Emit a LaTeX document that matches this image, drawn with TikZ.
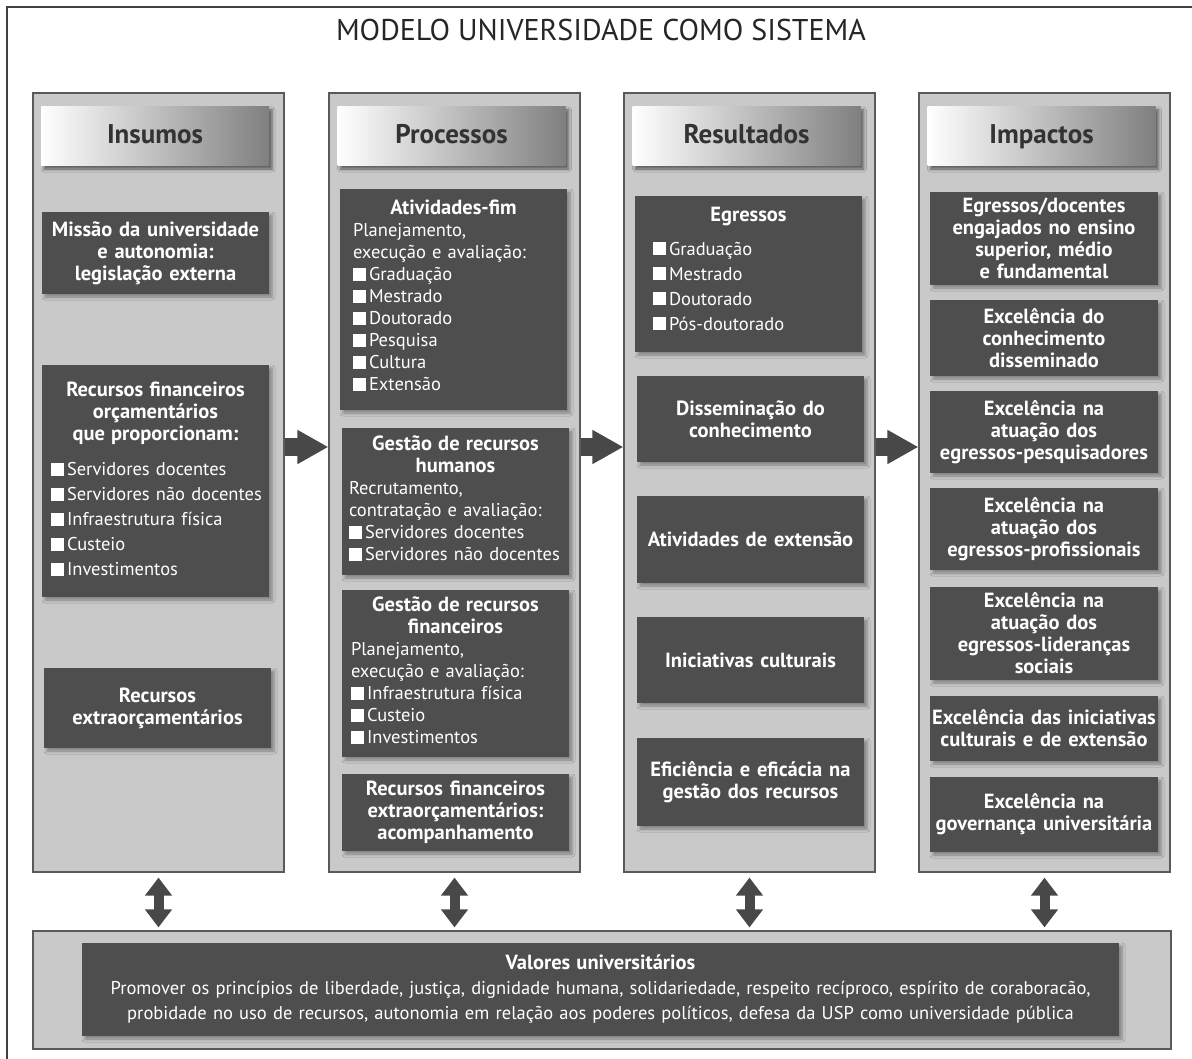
\documentclass[tikz,border=0pt]{standalone}
\usepackage{fontspec}
\setmainfont{PT Sans}
\usetikzlibrary{arrows.meta,shadows,shadows.blur}

\definecolor{panelgray}{HTML}{C9C9C9}
\definecolor{boxgray}{HTML}{4E4E4E}
\definecolor{linegray}{HTML}{5A5A5A}
\definecolor{arrowgray}{HTML}{484848}
\definecolor{headtext}{HTML}{333333}

% list item with a white bullet square, kept on one line
\newcommand\itm[1]{\mbox{\rule{13pt}{13pt}\kern3pt #1}}
\newcommand\boxfont{\fontsize{18.5}{22}\selectfont}
\newcommand\boldfont{\fontsize{20.5}{22}\selectfont\bfseries}

\tikzset{
  panel/.style={draw=linegray, line width=1.2pt, fill=panelgray},
  hdr/.style={draw=none, left color=white, middle color=black!8, right color=black!50,
    minimum width=228pt, minimum height=59pt, text=headtext,
    text height=19pt, text depth=5pt,
    font=\fontsize{27}{30}\selectfont\bfseries,
    blur shadow={shadow xshift=3pt, shadow yshift=-3pt, shadow blur radius=3pt, shadow opacity=55}},
  dark/.style={draw=none, fill=boxgray, text=white, font=\boxfont,
    blur shadow={shadow xshift=3pt, shadow yshift=-3pt, shadow blur radius=3pt, shadow opacity=35}},
  cbox/.style={dark, align=center, inner xsep=1pt, text width=#1, font=\boldfont},
  lbox/.style={dark, align=left, text width=#1},
  fatarrow/.style={draw=arrowgray, line width=18pt, -{Triangle[width=32pt,length=31pt]}},
  dblarrow/.style={draw=arrowgray, line width=10pt,
    {Triangle[width=26pt,length=18pt]}-{Triangle[width=26pt,length=18pt]},
    shorten <=5pt, shorten >=3pt},
}

\begin{document}
\begin{tikzpicture}[x=1pt,y=-1pt]
\useasboundingbox (0,0) rectangle (1192,1059);

% outer frame (top and left edges)
\draw[draw=black!75, line width=1.5pt] (7,1059) -- (7,7) -- (1192,7);

\node[text=black!85, font=\fontsize{30}{34}\selectfont] (title) at (601,30) {MODELO UNIVERSIDADE COMO SISTEMA};

% column panels
\node[panel, minimum width=251pt, minimum height=779pt] (ins)  at (158.5,482.5) {};
\node[panel, minimum width=251pt, minimum height=779pt] (proc) at (454.5,482.5) {};
\node[panel, minimum width=251pt, minimum height=779pt] (res)  at (749.5,482.5) {};
\node[panel, minimum width=251pt, minimum height=779pt] (imp)  at (1044.5,482.5) {};

% column headers
\node[hdr] (hins)  at (155,136.5)   {Insumos};
\node[hdr] (hproc) at (451.5,136.5) {Processos};
\node[hdr] (hres)  at (746.5,136.5) {Resultados};
\node[hdr] (himp)  at (1041.5,136.5) {Impactos};

% ---- Insumos
\node[cbox=225pt, minimum height=82pt] (mis) at (155.5,253)
  {Missão da universidade\\ e autonomia:\\ legislação externa};
\node[lbox=209pt, inner xsep=9pt, minimum height=232pt] (rfo) at (155.5,481)
  {{\centering\boldfont Recursos financeiros\\ orçamentários\\ que proporcionam:\par}
   \vspace{10pt}
   {\baselineskip=25pt \itm{Servidores docentes}\\ \itm{Servidores não docentes}\\
    \itm{Infraestrutura física}\\ \itm{Custeio}\\ \itm{Investimentos}\par}
   \vspace{4pt}};
\node[cbox=225pt, minimum height=80pt] (rex) at (157.5,708)
  {Recursos\\ extraorçamentários};

% ---- Processos
\node[lbox=201pt, inner xsep=13pt, minimum height=221pt] (ati) at (453.5,299.5)
  {{\centering\boldfont Atividades-fim\par}
   Planejamento,\\ execução e avaliação:\\
   \itm{Graduação}\\ \itm{Mestrado}\\ \itm{Doutorado}\\ \itm{Pesquisa}\\ \itm{Cultura}\\ \itm{Extensão}\par
   \vspace{8pt}};
\node[lbox=213pt, inner xsep=7pt, minimum height=147pt] (grh) at (455.5,501.5)
  {{\centering\boldfont Gestão de recursos\\ humanos\par}
   Recrutamento,\\ contratação e avaliação:\\
   \itm{Servidores docentes}\\ \itm{Servidores não docentes}\par
   \vspace{6pt}};
\node[lbox=209pt, inner xsep=9pt, minimum height=167pt] (grf) at (455.5,673.5)
  {{\centering\boldfont Gestão de recursos\\ financeiros\par}
   Planejamento,\\ execução e avaliação:\\
   \itm{Infraestrutura física}\\ \itm{Custeio}\\ \itm{Investimentos}\par
   \vspace{6pt}};
\node[cbox=225pt, minimum height=77pt] (rfe) at (455.5,812.5)
  {Recursos financeiros\\ extraorçamentários:\\ acompanhamento};

% ---- Resultados
\node[lbox=191pt, inner xsep=18pt, minimum height=156pt] (egr) at (748.5,274)
  {{\centering\boldfont Egressos\par}
   \vspace{9pt}
   {\baselineskip=25pt \itm{Graduação}\\ \itm{Mestrado}\\ \itm{Doutorado}\\ \itm{Pós-doutorado}\par}
   \vspace{11pt}};
\node[cbox=225pt, minimum height=86pt] (dis) at (750.5,419)
  {Disseminação do\\ conhecimento};
\node[cbox=225pt, minimum height=87pt] (ext) at (750.5,539.5)
  {Atividades de extensão};
\node[cbox=225pt, minimum height=86pt] (cul) at (750.5,660)
  {Iniciativas culturais};
\node[cbox=225pt, minimum height=88pt] (efi) at (750.5,782)
  {Eficiência e eficácia na\\ gestão dos recursos};

% ---- Impactos
\node[cbox=226pt, minimum height=93pt] (i1) at (1044,238.5)
  {Egressos/docentes\\ engajados no ensino\\ superior, médio\\ e fundamental};
\node[cbox=226pt, minimum height=76pt] (i2) at (1044,338)
  {Excelência do\\ conhecimento\\ disseminado};
\node[cbox=226pt, minimum height=82pt] (i3) at (1044,432)
  {Excelência na\\ atuação dos\\ egressos-pesquisadores};
\node[cbox=226pt, minimum height=82pt] (i4) at (1044,529)
  {Excelência na\\ atuação dos\\ egressos-profissionais};
\node[cbox=226pt, minimum height=93pt] (i5) at (1044,633.5)
  {Excelência na\\ atuação dos\\ egressos-lideranças\\ sociais};
\node[cbox=226pt, minimum height=65pt] (i6) at (1044,728.5)
  {\mbox{Excelência das iniciativas}\\ culturais e de extensão};
\node[cbox=226pt, minimum height=75pt] (i7) at (1044,814.5)
  {Excelência na\\ governança universitária};

% ---- values panel
\node[panel, minimum width=1138pt, minimum height=118pt] (bot) at (602,990) {};
\node[cbox=1035pt, minimum height=93pt, font=\fontsize{18.5}{25}\selectfont] (val) at (600.5,989.5)
  {{\boldfont Valores universitários}\\
   Promover os princípios de liberdade, justiça, dignidade humana, solidariedade, respeito recíproco, espírito de coraboracão,\\
   probidade no uso de recursos, autonomia em relação aos poderes políticos, defesa da USP como universidade pública};

% flow arrows between columns
\coordinate (flow) at (0,447);
\draw[fatarrow] (ins.east |- flow) -- (proc.west |- flow);
\draw[fatarrow] (proc.east |- flow) -- (res.west |- flow);
\draw[fatarrow] (res.east |- flow) -- (imp.west |- flow);

% two-way arrows to the values panel
\draw[dblarrow] (ins.south) -- (ins.south |- bot.north);
\draw[dblarrow] (proc.south) -- (proc.south |- bot.north);
\draw[dblarrow] (res.south) -- (res.south |- bot.north);
\draw[dblarrow] (imp.south) -- (imp.south |- bot.north);
\end{tikzpicture}
\end{document}
